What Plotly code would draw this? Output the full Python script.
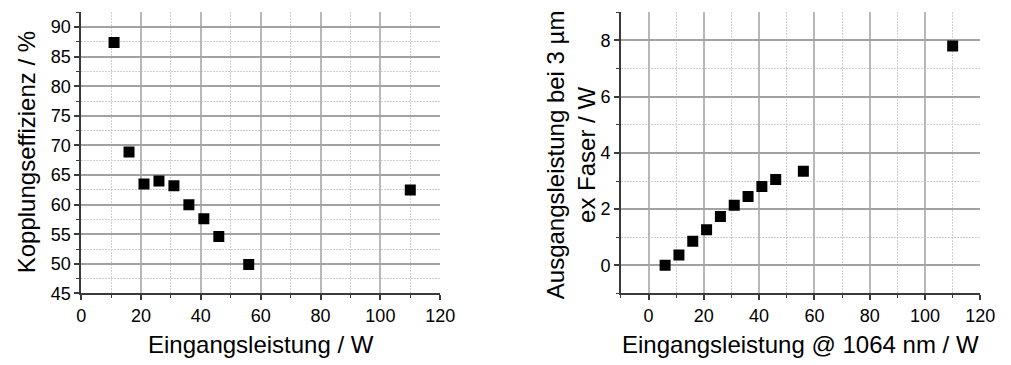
import plotly.graph_objects as go

# Coupling efficiency vs. input power
leistung_links = [11, 16, 21, 26, 31, 36, 41, 46, 56, 110]
effizienz = [87.4, 68.9, 63.5, 64.0, 63.2, 60.0, 57.6, 54.6, 49.9, 62.5]

# Output power at 3 um (fibre exit) vs. pump power at 1064 nm
leistung_rechts = [6, 11, 16, 21, 26, 31, 36, 41, 46, 56, 110]
ausgang = [0.0, 0.37, 0.86, 1.27, 1.74, 2.14, 2.45, 2.80, 3.05, 3.35, 7.80]

FONT = "Liberation Sans, Arial, sans-serif"
W, H = 1011, 365

fig = go.Figure()
marker = dict(symbol="square", size=11, color="black", line=dict(width=0))
fig.add_trace(go.Scatter(x=leistung_links, y=effizienz, mode="markers",
                         marker=marker, xaxis="x", yaxis="y", showlegend=False))
fig.add_trace(go.Scatter(x=leistung_rechts, y=ausgang, mode="markers",
                         marker=marker, xaxis="x2", yaxis="y2", showlegend=False))

y_bot, y_top = 1 - 301.7 / H, 1 - 12.7 / H


def axis(domain, rng, dtick, minor_dtick, anchor, gridcolor, gridwidth):
    return dict(
        domain=domain, range=rng, anchor=anchor, dtick=dtick, tick0=0,
        showline=True, linecolor="#3a3a3a", linewidth=1.5,
        ticks="outside", ticklen=5, tickwidth=1.5, tickcolor="#3a3a3a",
        showgrid=True, gridcolor=gridcolor, gridwidth=gridwidth,
        zeroline=False, mirror=False,
        tickfont=dict(family=FONT, size=18, color="black"),
        minor=dict(dtick=minor_dtick, tick0=0, ticks="outside", ticklen=3,
                   tickwidth=1.2, tickcolor="#3a3a3a", showgrid=True,
                   gridcolor="#cfcfcf", griddash="2px,1px", gridwidth=1),
        fixedrange=True,
    )


fig.update_layout(
    width=W, height=H,
    margin=dict(l=0, r=0, t=0, b=0),
    paper_bgcolor="white", plot_bgcolor="white",
    font=dict(family=FONT, color="black"),
    xaxis=axis([77.7 / W, 444 / W], [0, 120], 20, 10, "y", "#b8b8b8", 2),
    yaxis=axis([y_bot, y_top], [45, 92.5], 5, 2.5, "x", "#a2a2a2", 1.5),
    xaxis2=axis([628.3 / W, 995 / W], [-10, 120], 20, 10, "y2", "#b8b8b8", 2),
    yaxis2=axis([y_bot, y_top], [-1, 9], 2, 1, "x2", "#a2a2a2", 1.5),
)

title_font = dict(family=FONT, size=24, color="black")
fig.add_annotation(text="Eingangsleistung / W", x=261 / W, y=1 - 354 / H,
                   xref="paper", yref="paper", showarrow=False, font=title_font,
                   xanchor="center", yanchor="middle")
fig.add_annotation(text="Kopplungseffizienz / %", x=22 / W, y=1 - 157 / H,
                   xref="paper", yref="paper", showarrow=False, font=title_font,
                   textangle=-90, xanchor="center", yanchor="middle")
fig.add_annotation(text="Eingangsleistung @ 1064 nm / W", x=811.5 / W, y=1 - 354 / H,
                   xref="paper", yref="paper", showarrow=False, font=title_font,
                   xanchor="center", yanchor="middle")
fig.add_annotation(text="Ausgangsleistung bei 3 µm<br>ex Faser / W",
                   x=577 / W, y=1 - 159 / H,
                   xref="paper", yref="paper", showarrow=False, font=title_font,
                   textangle=-90, xanchor="center", yanchor="middle")

fig.write_html("out.html", config={"displayModeBar": False})
